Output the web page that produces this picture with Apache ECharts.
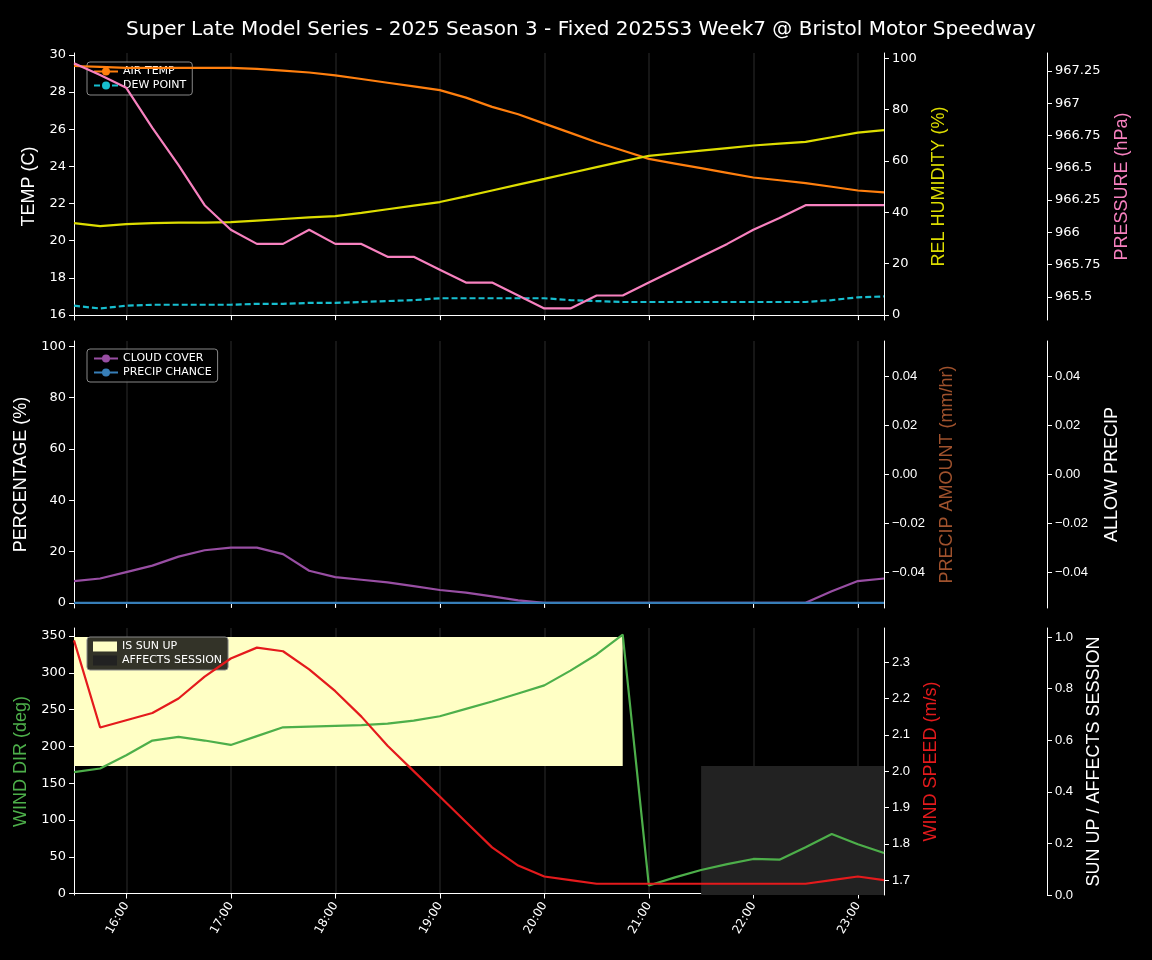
<!DOCTYPE html>
<html><head><meta charset="utf-8">
<script src="https://cdn.jsdelivr.net/npm/echarts@6/dist/echarts.min.js"></script>
<style>html,body{margin:0;background:#000}#c{width:1152px;height:960px}</style>
</head><body><div id="c"></div>
<script>
const times=["15:30","15:45","16:00","16:15","16:30","16:45","17:00","17:15","17:30","17:45","18:00","18:15","18:30","18:45","19:00","19:15","19:30","19:45","20:00","20:15","20:30","20:45","21:00","21:15","21:30","21:45","22:00","22:15","22:30","22:45","23:00","23:15"];
const airTemp=[29.4,29.35,29.3,29.3,29.3,29.3,29.3,29.25,29.15,29.05,28.9,28.7,28.5,28.3,28.1,27.7,27.2,26.8,26.3,25.8,25.3,24.85,24.4,24.15,23.9,23.65,23.4,23.25,23.1,22.9,22.7,22.6];
const dewPoint=[16.5,16.35,16.5,16.55,16.55,16.55,16.55,16.6,16.6,16.65,16.65,16.7,16.75,16.8,16.9,16.9,16.9,16.9,16.9,16.8,16.75,16.7,16.7,16.7,16.7,16.7,16.7,16.7,16.7,16.8,16.95,17.0];
const humidity=[35.8,34.6,35.4,35.8,36,36,36.2,36.8,37.4,38,38.5,39.8,41.2,42.6,44,46.2,48.5,50.8,53,55.3,57.6,59.8,62,63,64,65,66,66.7,67.4,69.2,71,72];
const pressure=[967.31,967.22,967.12,966.81,966.52,966.21,966.02,965.91,965.91,966.02,965.91,965.91,965.81,965.81,965.71,965.61,965.61,965.51,965.41,965.41,965.51,965.51,965.61,965.71,965.81,965.91,966.02,966.11,966.21,966.21,966.21,966.21];
const cloudCover=[8.5,9.5,12,14.5,18,20.5,21.5,21.5,19,12.5,10,9,8,6.5,5,4,2.5,1,0,0,0,0,0,0,0,0,0,0,0,4.5,8.5,9.5];
const precipChance=times.map(()=>0);
const windDir=[165,170,188,208,213,208,202,214,226,227,228,229,231,235,241,251,261,272,283,303,325,352,11,22,32,40,47,46,63,81,67,55];
const windSpeed=[2.36,2.12,2.14,2.16,2.2,2.26,2.31,2.34,2.33,2.28,2.22,2.15,2.07,2.0,1.93,1.86,1.79,1.74,1.71,1.7,1.69,1.69,1.69,1.69,1.69,1.69,1.69,1.69,1.69,1.7,1.71,1.7];
const isSunUp=times.map((t,i)=>i<=21?1:0);
const affectsSession=times.map((t,i)=>i>=24?1:0);

function ranges(arr){const r=[];let s=-1;arr.forEach((v,i)=>{if(v&&s<0)s=i;if((!v||i===arr.length-1)&&s>=0){r.push([s,v?i:i-1]);s=-1;}});return r;}
const W='#ffffff';
const grids=[{left:74,width:810,top:53,height:267},{left:74,width:810,top:341,height:267},{left:74,width:810,top:628,height:267}];
const isHour=(i,v)=>times[i].endsWith(':00');
const xAxes=[0,1,2].map(g=>({type:'category',gridIndex:g,data:times,boundaryGap:false,
 axisLine:{lineStyle:{color:W}},axisTick:{interval:isHour,lineStyle:{color:W},length:5},
 axisLabel:{show:g===2,interval:isHour,rotate:60,color:W,fontSize:12,fontFamily:'DejaVu Sans'},
 splitLine:{show:true,interval:isHour,lineStyle:{color:'#1e1e1e',width:1.5}}}));
function vAx(g,opt){return Object.assign({type:'value',gridIndex:g,nameLocation:'middle',nameTextStyle:{fontSize:18,fontFamily:'DejaVu Sans'},
 axisLine:{show:true,lineStyle:{color:W}},axisTick:{show:true,lineStyle:{color:W}},splitLine:{show:false},
 axisLabel:{color:W,fontSize:13,fontFamily:'DejaVu Sans'}},opt);}
const cv=(a)=>({axisLabel:{color:W,fontSize:13,fontFamily:'DejaVu Sans',customValues:a},axisTick:{show:true,customValues:a,lineStyle:{color:W}}});
const yAxes=[
 vAx(0,Object.assign({min:15.73,max:30.1,name:'TEMP (C)',nameGap:36,nameTextStyle:{color:W,fontSize:18}},cv([16,18,20,22,24,26,28,30]))),
 vAx(0,Object.assign({position:'right',min:-1.9,max:102,name:'REL HUMIDITY (%)',nameGap:46,nameTextStyle:{color:'#dddd00',fontSize:18}},cv([0,20,40,60,80,100]))),
 vAx(0,Object.assign({position:'right',offset:163,min:965.32,max:967.39,name:'PRESSURE (hPa)',nameGap:66,nameTextStyle:{color:'#f781bf',fontSize:18}},cv([965.5,965.75,966,966.25,966.5,966.75,967,967.25]))),
 vAx(1,Object.assign({min:-2,max:102,name:'PERCENTAGE (%)',nameGap:36,nameTextStyle:{color:W,fontSize:18}},cv([0,20,40,60,80,100]))),
 vAx(1,Object.assign({position:'right',min:-0.0546,max:0.0546,name:'PRECIP AMOUNT (mm/hr)',nameGap:54,nameTextStyle:{color:'#a0522d',fontSize:18}},cv([-0.04,-0.02,0,0.02,0.04]),{axisLabel:{color:W,fontSize:13,customValues:[-0.04,-0.02,0,0.02,0.04],formatter:v=>v.toFixed(2).replace('-','−')}})),
 vAx(1,Object.assign({position:'right',offset:163,min:-0.0546,max:0.0546,name:'ALLOW PRECIP',nameGap:56,nameTextStyle:{color:W,fontSize:18}},cv([-0.04,-0.02,0,0.02,0.04]),{axisLabel:{color:W,fontSize:13,customValues:[-0.04,-0.02,0,0.02,0.04],formatter:v=>v.toFixed(2).replace('-','−')}})),
 vAx(2,Object.assign({min:-2,max:361,name:'WIND DIR (deg)',nameGap:44,nameTextStyle:{color:'#4daf4a',fontSize:18}},cv([0,50,100,150,200,250,300,350]))),
 vAx(2,Object.assign({position:'right',min:1.659,max:2.394,name:'WIND SPEED (m/s)',nameGap:38,nameTextStyle:{color:'#e41a1c',fontSize:18}},cv([1.7,1.8,1.9,2.0,2.1,2.2,2.3]),{axisLabel:{color:W,fontSize:13,customValues:[1.7,1.8,1.9,2.0,2.1,2.2,2.3],formatter:v=>v.toFixed(1)}})),
 vAx(2,Object.assign({position:'right',offset:163,min:0,max:1.035,name:'SUN UP / AFFECTS SESSION',nameGap:38,nameTextStyle:{color:W,fontSize:18}},cv([0,0.2,0.4,0.6,0.8,1.0]),{axisLabel:{color:W,fontSize:13,customValues:[0,0.2,0.4,0.6,0.8,1.0],formatter:v=>v.toFixed(1)}}))
];
function ln(name,x,y,data,color,extra){return Object.assign({name,type:'line',xAxisIndex:x,yAxisIndex:y,data,symbol:'none',lineStyle:{color,width:2.2},itemStyle:{color},z:5},extra||{});}
const sunAreas=ranges(isSunUp).map(r=>[{xAxis:times[r[0]],yAxis:0.5},{xAxis:times[r[1]],yAxis:1.0}]);
const affAreas=ranges(affectsSession).map(r=>[{xAxis:times[r[0]],yAxis:0},{xAxis:times[r[1]],yAxis:0.5}]);
const series=[
 ln('AIR TEMP',0,0,airTemp,'#ff7f0e'),
 ln('DEW POINT',0,0,dewPoint,'#17becf',{lineStyle:{color:'#17becf',width:2.2,type:[6,3]}}),
 ln('REL HUMIDITY',0,1,humidity,'#dddd00'),
 ln('PRESSURE',0,2,pressure,'#f781bf'),
 ln('CLOUD COVER',1,3,cloudCover,'#984ea3'),
 ln('PRECIP CHANCE',1,3,precipChance,'#377eb8'),
 {name:'IS SUN UP',type:'line',xAxisIndex:2,yAxisIndex:8,data:[],symbol:'none',itemStyle:{color:'#ffffc5'},lineStyle:{width:0},
  markArea:{silent:true,itemStyle:{color:'#ffffc5'},data:sunAreas},z:1},
 {name:'AFFECTS SESSION',type:'line',xAxisIndex:2,yAxisIndex:8,data:[],symbol:'none',itemStyle:{color:'#222222'},lineStyle:{width:0},
  markArea:{silent:true,itemStyle:{color:'#222222'},data:affAreas},z:1},
 ln('WIND DIR',2,6,windDir,'#4daf4a'),
 ln('WIND SPEED',2,7,windSpeed,'#e41a1c')
];
const legBase={orient:'vertical',backgroundColor:'rgba(0,0,0,0.8)',borderColor:'#888',borderWidth:1,borderRadius:3,padding:[4,6],itemGap:3,itemWidth:24,itemHeight:10,textStyle:{color:W,fontSize:11,fontFamily:'DejaVu Sans'}};
const chart=echarts.init(document.getElementById('c'));
chart.setOption({backgroundColor:'#000',animation:false,
 title:{text:'Super Late Model Series - 2025 Season 3 - Fixed 2025S3 Week7 @ Bristol Motor Speedway',left:576,textAlign:'center',top:15,textStyle:{color:W,fontSize:20,fontWeight:'normal',fontFamily:'DejaVu Sans'}},
 grid:grids,xAxis:xAxes,yAxis:yAxes,series,
 legend:[Object.assign({},legBase,{left:87,top:62,data:['AIR TEMP','DEW POINT']}),
  Object.assign({},legBase,{left:87,top:349,data:['CLOUD COVER','PRECIP CHANCE']}),
  Object.assign({},legBase,{left:87,top:637,data:[{name:'IS SUN UP',icon:'rect'},{name:'AFFECTS SESSION',icon:'rect'}]})]
});
</script></body></html>
